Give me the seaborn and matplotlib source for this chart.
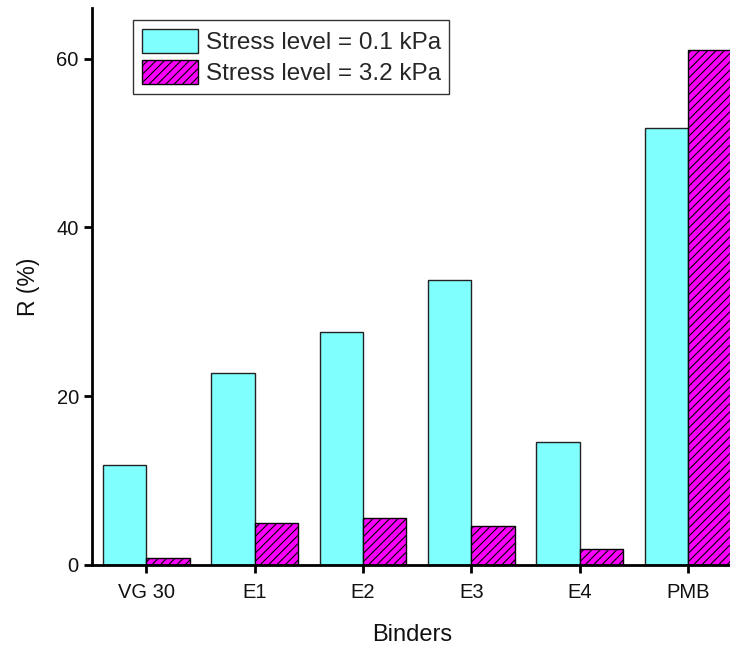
import matplotlib
matplotlib.use("Agg")
import matplotlib.pyplot as plt
import seaborn as sns
import pandas as pd

binders = ["VG 30", "E1", "E2", "E3", "E4", "PMB"]
stress_low = [11.8, 22.8, 27.6, 33.8, 14.6, 51.8]
stress_high = [0.8, 5.0, 5.6, 4.6, 1.9, 61.0]
series_labels = ["Stress level = 0.1 kPa", "Stress level = 3.2 kPa"]

df = pd.DataFrame({
    "Binders": binders * 2,
    "R": stress_low + stress_high,
    "Series": [series_labels[0]] * len(binders) + [series_labels[1]] * len(binders),
})

sns.set_style("ticks")
plt.rcParams["font.family"] = ["Liberation Sans", "DejaVu Sans"]
plt.rcParams["hatch.linewidth"] = 0.8

fig = plt.figure(figsize=(7.3, 6.46), dpi=100)
ax = fig.add_axes([92 / 730, 1 - 565 / 646, 1 - 92 / 730 + 0.002, (565 - 8) / 646])

palette = {series_labels[0]: "#80FFFF", series_labels[1]: "#FF00FF"}
sns.barplot(data=df, x="Binders", y="R", hue="Series", palette=palette,
            saturation=1, edgecolor="black", linewidth=1.0, legend=False,
            width=0.8, ax=ax)

for p in ax.containers[0]:
    p.set_edgecolor("#222222")
for p in ax.containers[1]:
    p.set_hatch("////")
    p.set_edgecolor("black")

ax.set_xlim(-0.5, 5.4)
ax.set_ylim(0, 66)
ax.set_yticks([0, 20, 40, 60])
ax.tick_params(axis="both", labelsize=14.5, width=2, length=6, color="black",
               labelcolor="#111111")
ax.tick_params(axis="x", pad=7)
for s in ["top", "right"]:
    ax.spines[s].set_visible(False)
for s in ["left", "bottom"]:
    ax.spines[s].set_linewidth(2)
    ax.spines[s].set_color("black")

ax.set_xlabel("Binders", fontsize=17, labelpad=16, color="#111111")
ax.set_ylabel("R (%)", fontsize=16.5, labelpad=12, color="#111111")

leg = ax.legend(ax.containers, series_labels, loc="upper left",
                bbox_to_anchor=(0.0643, 0.978), fontsize=17.5, frameon=True,
                fancybox=False, edgecolor="#333333", framealpha=1,
                handlelength=2.3, handleheight=1.15, handletextpad=0.33,
                labelspacing=0.25, borderpad=0.35, borderaxespad=0)
leg.get_frame().set_linewidth(1.0)

fig.savefig("out.png", dpi=100)
